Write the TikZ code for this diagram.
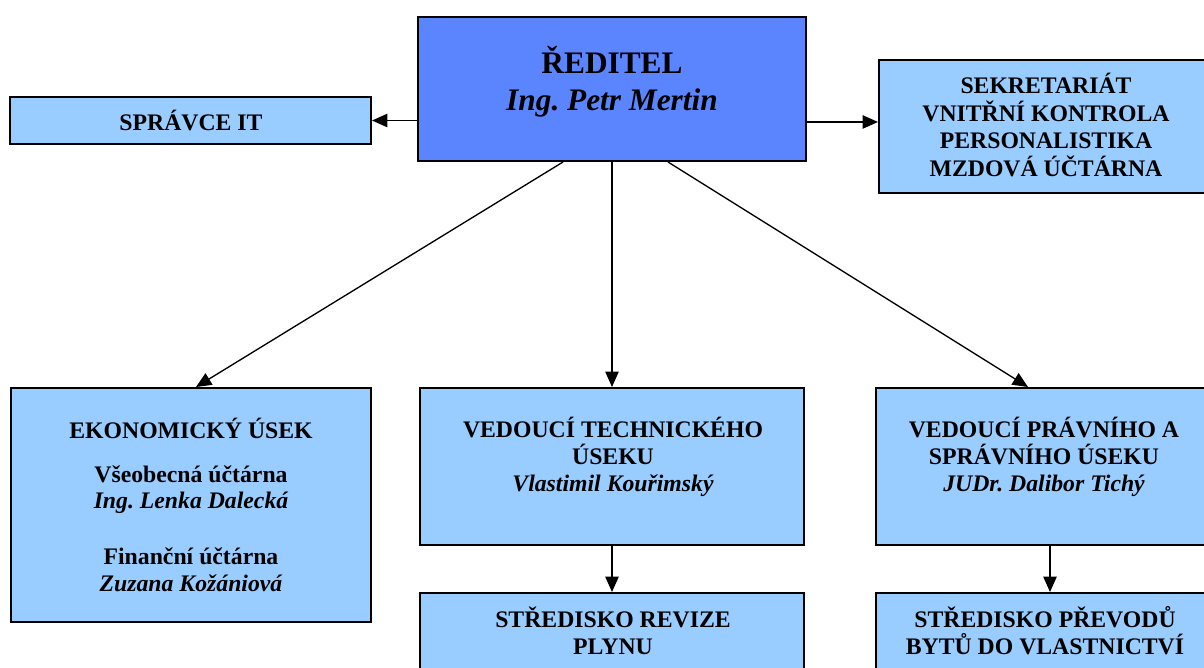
\documentclass[tikz,border=0pt]{standalone}
\usepackage{fontspec}
\setmainfont{Liberation Serif}
\frenchspacing
\usetikzlibrary{fit,calc,arrows.meta}
\definecolor{lightbox}{RGB}{153,204,255}
\definecolor{darkbox}{RGB}{91,132,255}
\tikzset{
  boxbase/.style={draw=black, line width=1.5pt, inner sep=0pt, rectangle},
  lbox/.style={boxbase, fill=lightbox},
  dbox/.style={boxbase, fill=darkbox},
  arr/.style={line width=1pt, -{Triangle[length=11.5pt,width=10pt]}},
  txt/.style={anchor=base, inner sep=0pt, font=\fontsize{17.8}{20.6}\selectfont\bfseries},
  itxt/.style={txt, font=\fontsize{17.8}{20.6}\selectfont\bfseries\itshape},
  bigtxt/.style={anchor=base, inner sep=0pt, font=\fontsize{23.5}{27}\selectfont\bfseries},
  bigitxt/.style={bigtxt, font=\fontsize{23.5}{27}\selectfont\bfseries\itshape}
}
\begin{document}
\begin{tikzpicture}[x=0.75pt,y=-0.75pt]
\useasboundingbox (0,0) rectangle (1204,668);
\clip (0,0) rectangle (1204,668);
% boxes
\node[dbox, fit={(418,17) (806,161)}] (red) {};
\node[lbox, fit={(10,97) (371,144)}] (it) {};
\node[lbox, fit={(879,60) (1224,193)}] (sek) {};
\node[lbox, fit={(11,388) (371,622)}] (eko) {};
\node[lbox, fit={(420,388) (804,545)}] (tech) {};
\node[lbox, fit={(876,388) (1224,545)}] (prav) {};
\node[lbox, fit={(420,593) (804,720)}] (rev) {};
\node[lbox, fit={(876,593) (1224,720)}] (prev) {};
% connectors
\draw[arr] (red.west |- it.east) -- (it.east);
\draw[arr] ([yshift=3.4pt]red.east |- sek.west) -- ([yshift=3.4pt]sek.west);
\draw[arr] ($(red.south)+(-49,0)$) -- ($(eko.north)+(5,0)$);
\draw[arr] (red.south) -- (tech.north);
\draw[arr] ($(red.south)+(56,0)$) -- ($(prav.north)+(-22,0)$);
\draw[arr] (tech.south) -- (rev.north);
\draw[arr] (prav.south) -- (prev.north);
% texts
\node[bigtxt] (t1) at (612,73) {ŘEDITEL};
\node[bigitxt] (t2) at (612,110) {Ing. Petr Mertin};
\node[txt] (t3) at (191,130) {SPRÁVCE IT};
\node[txt] (t4) at (1046,93) {SEKRETARIÁT};
\node[txt] (t5) at (1046,121) {VNITŘNÍ KONTROLA};
\node[txt] (t6) at (1046,148) {PERSONALISTIKA};
\node[txt] (t7) at (1046,176) {MZDOVÁ ÚČTÁRNA};
\node[txt] (t8) at (191,438) {EKONOMICKÝ ÚSEK};
\node[txt] (t9) at (191,482) {Všeobecná účtárna};
\node[itxt] (t10) at (191,508) {Ing. Lenka Dalecká};
\node[txt] (t11) at (191,564) {Finanční účtárna};
\node[itxt] (t12) at (191,591) {Zuzana Kožániová};
\node[txt] (t13) at (613,437) {VEDOUCÍ TECHNICKÉHO};
\node[txt] (t14) at (613,464) {ÚSEKU};
\node[itxt] (t15) at (613,491) {Vlastimil Kouřimský};
\node[txt] (t16) at (1044,437) {VEDOUCÍ PRÁVNÍHO A};
\node[txt] (t17) at (1044,464) {SPRÁVNÍHO ÚSEKU};
\node[itxt] (t18) at (1044,491) {JUDr. Dalibor Tichý};
\node[txt] (t19) at (613,627) {STŘEDISKO REVIZE};
\node[txt] (t20) at (613,654) {PLYNU};
\node[txt] (t21) at (1045,627) {STŘEDISKO PŘEVODŮ};
\node[txt] (t22) at (1045,654) {BYTŮ DO VLASTNICTVÍ};
\end{tikzpicture}
\end{document}
